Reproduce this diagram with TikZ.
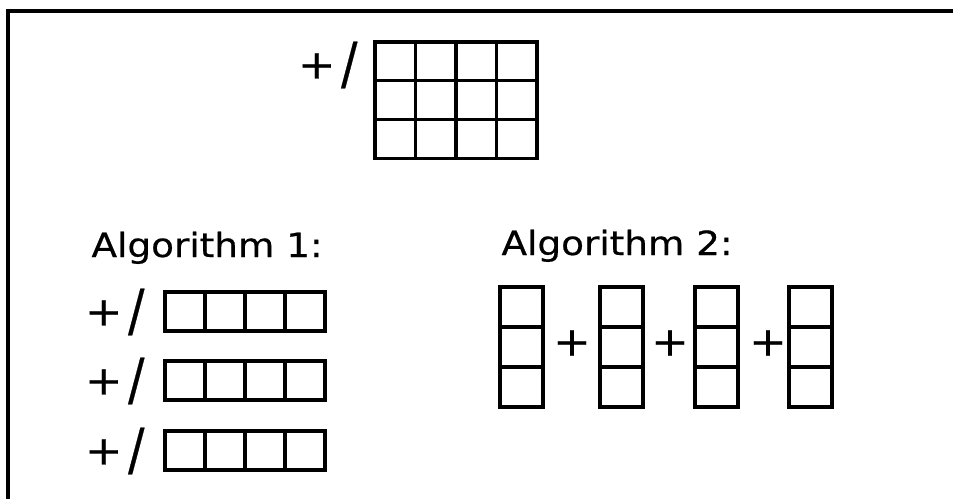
\documentclass[tikz,border=0pt]{standalone}
\usepackage{fontspec}
\usepackage{graphicx}
\setmainfont{DejaVu Sans}[FakeStretch=1.12, FakeBold=0.6]

% APL reduction sign, with a tall slash
\newcommand{\bigplus}{\scalebox{1.2}{+}}
\newcommand{\plred}{\raisebox{3.4pt}{\bigplus}\,\scalebox{1.3}[1.7]{/}}

\begin{document}
\begin{tikzpicture}[x=0.75pt, y=-0.75pt, line width=2.3pt,
	every node/.style={inner sep=0pt, font=\fontsize{25}{30}\selectfont}]
	\useasboundingbox (0,0) rectangle (953,499);
	\draw[line width=2.6pt] (8,499) -- (8,11) -- (953,11);

	% the whole array
	\node[anchor=east] (red) at (359,65) {\plred};
	\foreach \i in {0,...,3}
	\foreach \j in {0,...,2}
	\draw (375+40.5*\i,42+38.7*\j) rectangle ++(40.5,38.7);

	% first way: one reduction per row
	\node[anchor=base west] (alg1) at (90,257) {Algorithm 1:};
	\foreach \r/\y in {1/292,2/361,3/431}
	{
		\node[anchor=east] (red\r) at (146,\y+20) {\plred};
		\foreach \i in {0,...,3}
		\draw (165+40*\i,\y) rectangle ++(40,39);
	}

	% second way: add the columns
	\node[anchor=base west] (alg2) at (500,255) {Algorithm 2:};
	\foreach \x in {500,600,695,789}
	\foreach \j in {0,...,2}
	\draw (\x,287+40*\j) rectangle ++(43,40);
	\foreach \p/\x in {1/572,2/670,3/768}
	\node (plus\p) at (\x,343) {\bigplus};
\end{tikzpicture}
\end{document}
